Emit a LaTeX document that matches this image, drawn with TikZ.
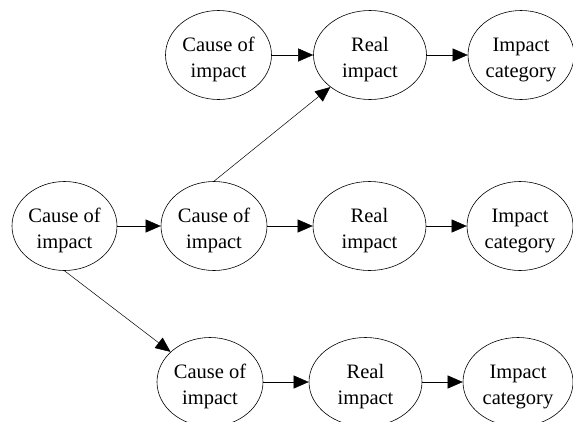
\documentclass[tikz,border=0pt]{standalone}
\usepackage{fontspec}
\setmainfont{Liberation Serif}
\usetikzlibrary{shapes.geometric,arrows.meta}
\newcommand{\twoline}[2]{\raisebox{-4pt}[\height][\depth]{\begin{tabular}{@{}c@{}}#1\\#2\end{tabular}}}
\begin{document}
\begin{tikzpicture}[x=1pt,y=-1pt,
  ell/.style={draw,ellipse,line width=0.6pt,inner sep=0pt,minimum width=#1,minimum height=89pt,
    font=\fontsize{20.5}{26}\selectfont},
  ell/.default=106pt,
  conn/.style={line width=0.5pt,-{Triangle[length=15pt,width=13pt]}}]
\useasboundingbox (0,0) rectangle (573,421);
% top row
\node[ell] (c1) at (218.5,55) {\twoline{Cause of}{impact}};
\node[ell=113pt] (r1) at (370,55) {\twoline{Real}{impact}};
\node[ell] (i1) at (521,55) {\twoline{Impact}{category}};
% middle row
\node[ell=105pt] (l) at (64.5,226) {\twoline{Cause of}{impact}};
\node[ell] (c2) at (214,226) {\twoline{Cause of}{impact}};
\node[ell=113pt] (r2) at (369.5,226) {\twoline{Real}{impact}};
\node[ell] (i2) at (520,226) {\twoline{Impact}{category}};
% bottom row
\node[ell] (c3) at (210,382) {\twoline{Cause of}{impact}};
\node[ell=113pt] (r3) at (365.5,382) {\twoline{Real}{impact}};
\node[ell=110pt] (i3) at (518,382) {\twoline{Impact}{category}};
% connectors
\draw[conn] (c1) -- (r1);
\draw[conn] (r1) -- (i1);
\draw[conn] (l) -- (c2);
\draw[conn] (c2) -- (r2);
\draw[conn] (r2) -- (i2);
\draw[conn] (c3) -- (r3);
\draw[conn] (r3) -- (i3);
\draw[conn] (c2.north) -- (r1);
\draw[conn] (l.south) -- (c3);
\end{tikzpicture}
\end{document}
